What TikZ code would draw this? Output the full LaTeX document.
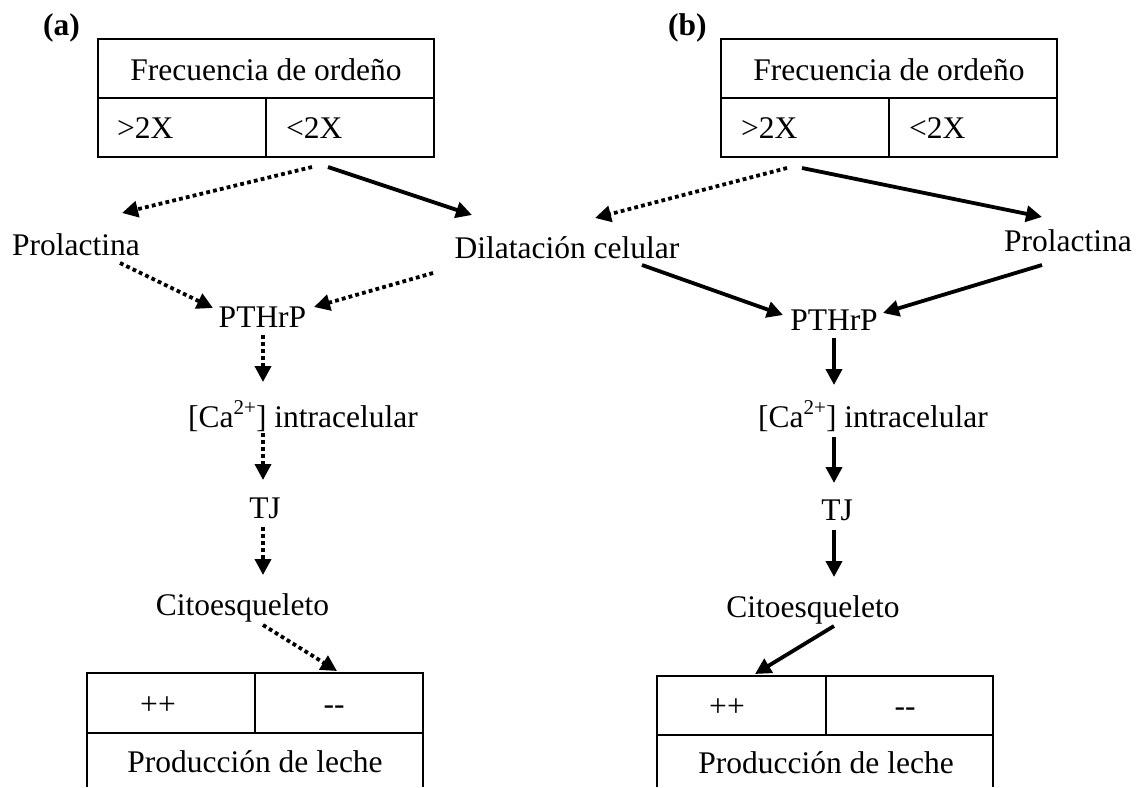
\documentclass[tikz,border=0pt]{standalone}
\usepackage{fontspec}
\setmainfont{Liberation Serif}
\usetikzlibrary{arrows.meta}
\newcommand{\supTwo}{\raisebox{13pt}{\fontsize{21}{21}\selectfont 2+}}
\begin{document}
\begin{tikzpicture}[x=1pt,y=-1pt,
  txt/.style={font=\fontsize{31.5}{36}\selectfont, inner sep=0pt},
  lbl/.style={font=\fontsize{31.5}{36}\selectfont\bfseries, inner sep=0pt},
  boxline/.style={line width=2pt},
  arr/.style={line width=3.8pt, -{Triangle[length=16pt,width=16pt]}},
  dotarr/.style={arr, dash pattern=on 3.8pt off 3.2pt}]
\useasboundingbox (0,0) rectangle (1143,787);

% ---------- panel (a) ----------
\node[lbl, anchor=base west] (labA) at (43,35) {(a)};
\node[draw, boxline, minimum width=336pt, minimum height=118pt, inner sep=0pt] (topL) at (266,98) {};
\draw[boxline] (topL.west) -- (topL.east);
\draw[boxline] (topL.center) -- (topL.south);
\node[txt, anchor=base] (frqL) at (266,80) {Frecuencia de ordeño};
\node[txt, anchor=base west] (gtL) at (117,138) {>2X};
\node[txt, anchor=base west] (ltL) at (286,138) {<2X};

\node[txt, anchor=base] (prolL) at (76,255) {Prolactina};
\node[txt, anchor=base] (dil) at (567,258) {Dilatación celular};
\node[txt, anchor=base] (pthL) at (262.5,327) {PTHrP};
\node[txt, anchor=base west] (caL) at (188,427) {[Ca\supTwo] intracelular};
\node[txt, anchor=base] (tjL) at (265,518) {TJ};
\node[txt, anchor=base] (citL) at (242.5,615) {Citoesqueleto};

\draw[boxline] (87,787) |- (423,673) -- (423,787);
\draw[boxline] (87,733) -- (423,733);
\draw[boxline] (255,673) -- (255,733);
\node[txt, anchor=base] (ppL) at (158,714) {++};
\node[txt, anchor=base] (mmL) at (334,714) {-{}-};
\node[txt, anchor=base] (prodL) at (255,772) {Producción de leche};

% arrow end points (a)
\coordinate (topLa) at (312,167);
\coordinate (topLb) at (328,167);
\coordinate (prolLin) at (122,213);
\coordinate (dilInL) at (472,215);
\coordinate (prolLout) at (120,263);
\coordinate (dilOutL) at (433,273);
\coordinate (pthLinA) at (213,308);
\coordinate (pthLinB) at (314,307);
\coordinate (pthLout) at (263,335);
\coordinate (caLin) at (263,382);
\coordinate (caLout) at (263,433);
\coordinate (tjLin) at (263,480);
\coordinate (tjLout) at (263,527);
\coordinate (citLin) at (263,575);
\coordinate (citLout) at (263,625);
\coordinate (botLin) at (337,671);

\draw[dotarr] (topLa) -- (prolLin);
\draw[arr] (topLb) -- (dilInL);
\draw[dotarr] (prolLout) -- (pthLinA);
\draw[dotarr] (dilOutL) -- (pthLinB);
\draw[dotarr] (pthLout) -- (caLin);
\draw[dotarr] (caLout) -- (tjLin);
\draw[dotarr] (tjLout) -- (citLin);
\draw[dotarr] (citLout) -- (botLin);

% ---------- panel (b) ----------
\node[lbl, anchor=base west] (labB) at (668,35) {(b)};
\node[draw, boxline, minimum width=336pt, minimum height=118pt, inner sep=0pt] (topR) at (889,98) {};
\draw[boxline] (topR.west) -- (topR.east);
\draw[boxline] (topR.center) -- (topR.south);
\node[txt, anchor=base] (frqR) at (889,80) {Frecuencia de ordeño};
\node[txt, anchor=base west] (gtR) at (741,138) {>2X};
\node[txt, anchor=base west] (ltR) at (909,138) {<2X};

\node[txt, anchor=base] (prolR) at (1068,251) {Prolactina};
\node[txt, anchor=base] (pthR) at (834,330) {PTHrP};
\node[txt, anchor=base west] (caR) at (758,427) {[Ca\supTwo] intracelular};
\node[txt, anchor=base] (tjR) at (837,520) {TJ};
\node[txt, anchor=base] (citR) at (813,617) {Citoesqueleto};

\draw[boxline] (657,787) |- (993,676) -- (993,787);
\draw[boxline] (657,735) -- (993,735);
\draw[boxline] (826,676) -- (826,735);
\node[txt, anchor=base] (ppR) at (727,716) {++};
\node[txt, anchor=base] (mmR) at (905,716) {-{}-};
\node[txt, anchor=base] (prodR) at (826,773) {Producción de leche};

% arrow end points (b)
\coordinate (topRa) at (787,168);
\coordinate (topRb) at (802,168);
\coordinate (dilInR) at (595,218);
\coordinate (prolRin) at (1042,217);
\coordinate (dilOutR) at (642,265);
\coordinate (prolRout) at (1042,265);
\coordinate (pthRinA) at (783,315);
\coordinate (pthRinB) at (883,313);
\coordinate (pthRout) at (834,338);
\coordinate (caRin) at (834,385);
\coordinate (caRout) at (834,437);
\coordinate (tjRin) at (834,483);
\coordinate (tjRout) at (834,530);
\coordinate (citRin) at (834,577);
\coordinate (citRout) at (834,626);
\coordinate (botRin) at (755,674);

\draw[dotarr] (topRa) -- (dilInR);
\draw[arr] (topRb) -- (prolRin);
\draw[arr] (dilOutR) -- (pthRinA);
\draw[arr] (prolRout) -- (pthRinB);
\draw[arr] (pthRout) -- (caRin);
\draw[arr] (caRout) -- (tjRin);
\draw[arr] (tjRout) -- (citRin);
\draw[arr] (citRout) -- (botRin);
\end{tikzpicture}
\end{document}
